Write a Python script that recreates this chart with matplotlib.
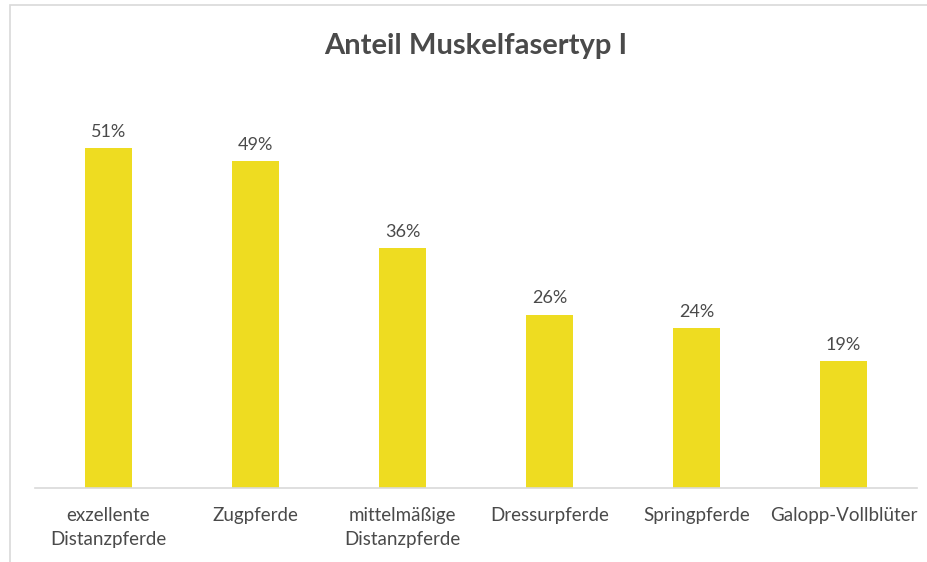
import matplotlib
matplotlib.use("Agg")
import matplotlib.pyplot as plt
from matplotlib.patches import Rectangle

categories = ["exzellente\nDistanzpferde", "Zugpferde", "mittelmäßige\nDistanzpferde",
              "Dressurpferde", "Springpferde", "Galopp-Vollblüter"]
values = [51, 49, 36, 26, 24, 19]
labels = ["51%", "49%", "36%", "26%", "24%", "19%"]
title = "Anteil Muskelfasertyp I"

plt.rcParams['font.family'] = ['Lato', 'DejaVu Sans']
W, H = 928, 562
fig = plt.figure(figsize=(W/100, H/100), dpi=100)
fig.patches.append(Rectangle((10/W, -0.1), 1.2, 1.1 - 5/H, transform=fig.transFigure,
                             fill=False, edgecolor="#d9d9d9", linewidth=1.2))

ax = fig.add_axes([35/W, 1 - 488/H, (917-35)/W, (488-88)/H])
x = list(range(len(categories)))
ax.bar(x, values, width=0.313, color="#eedc21")
for xi, v, lab in zip(x, values, labels):
    ax.annotate(lab, (xi, v), xytext=(0, 6), textcoords="offset points",
                ha="center", va="bottom", fontsize=13, color="#4a4a4a")
ax.set_xlim(-0.5, 5.5)
ax.set_ylim(0, 60)
ax.set_xticks(x)
ax.set_xticklabels(categories, fontsize=13.5, color="#4a4a4a", linespacing=1.45)
ax.tick_params(axis="x", length=0, pad=14)
ax.set_yticks([])
for s in ["top", "right", "left"]:
    ax.spines[s].set_visible(False)
ax.spines["bottom"].set_color("#d9d9d9")
ax.spines["bottom"].set_linewidth(1.2)
fig.text(476/W, 1 - 46/H, title, ha="center", va="center", fontsize=21,
         fontweight="bold", color="#4a4a4a")
fig.savefig("out.png", dpi=100, facecolor="white")
